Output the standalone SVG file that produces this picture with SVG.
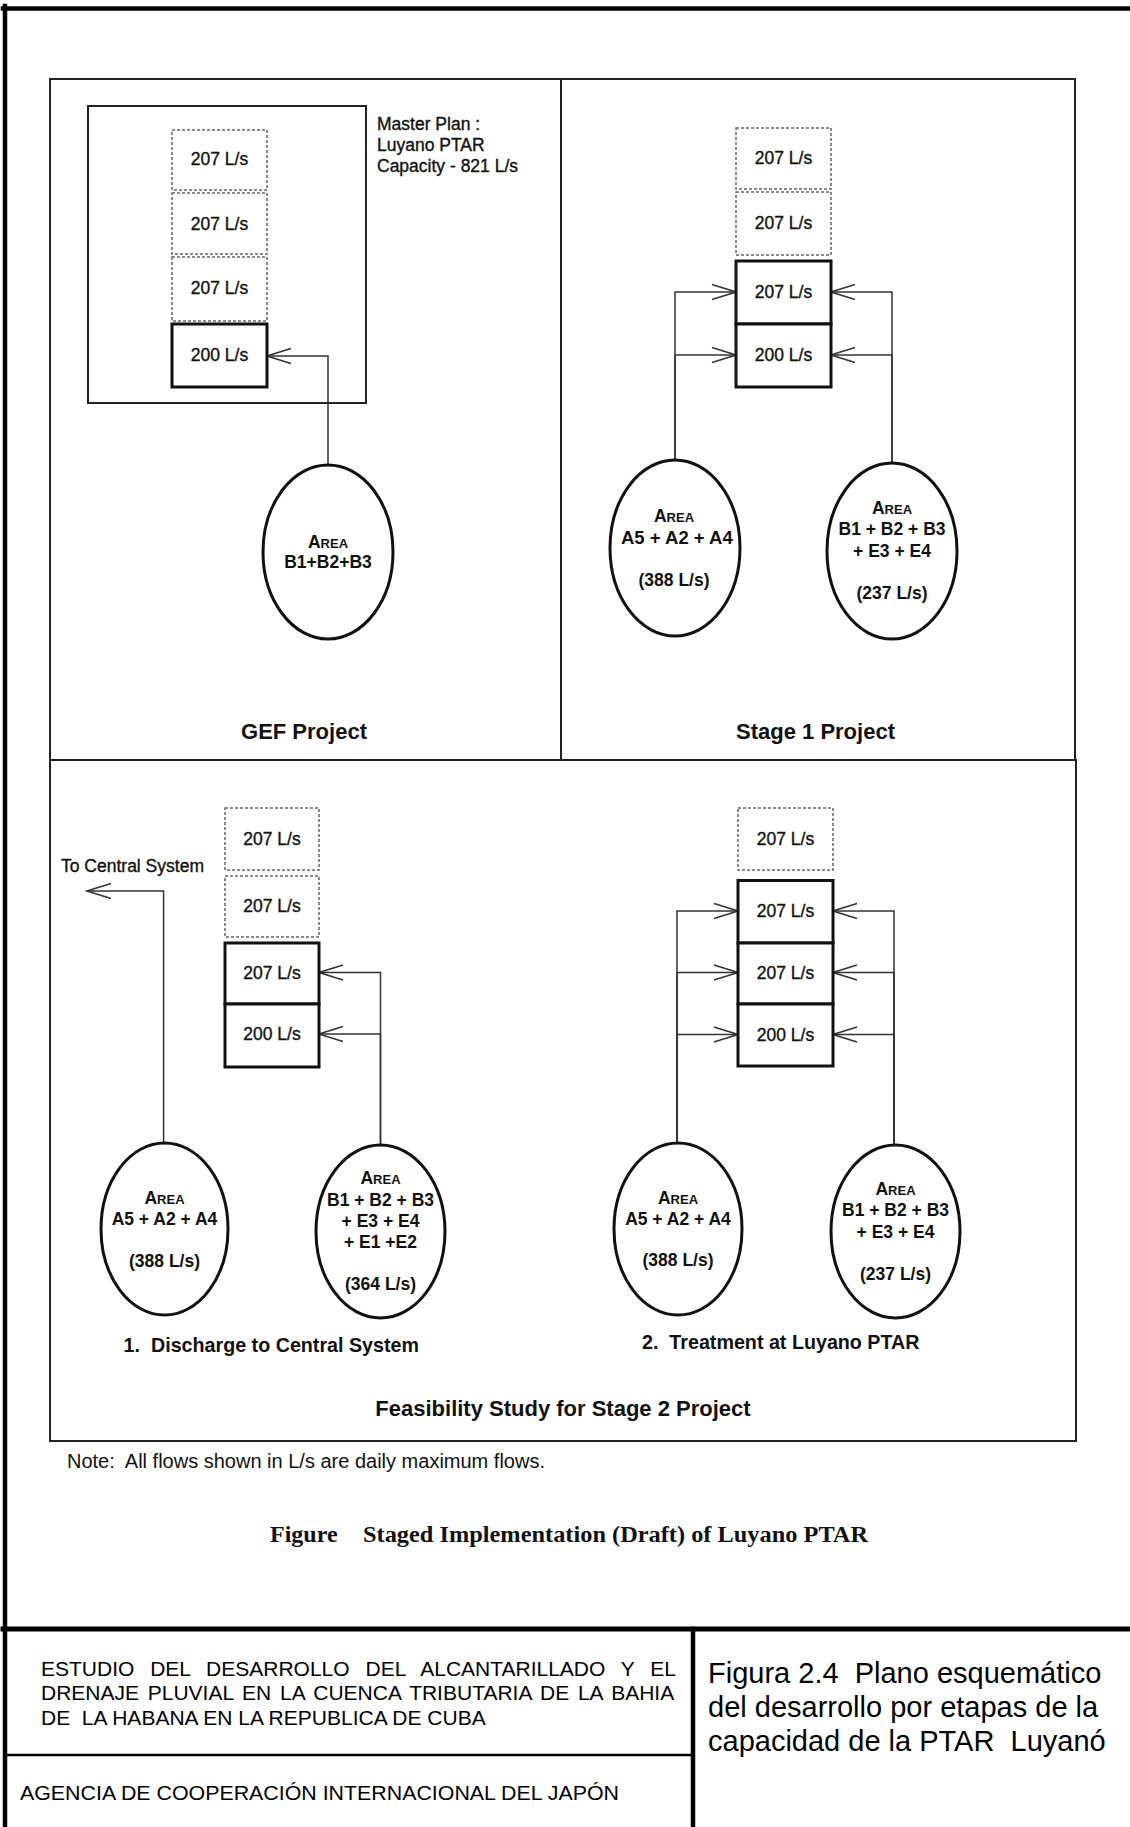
<svg xmlns="http://www.w3.org/2000/svg" width="1130" height="1827" viewBox="0 0 1130 1827">
<defs>
<style>
.frame{fill:none;stroke:#000;stroke-linecap:square}
.panel{fill:none;stroke:#222;stroke-width:2}
.dash{fill:#fff;stroke:#666;stroke-width:1.5;stroke-dasharray:3 2}
.box{fill:#fff;stroke:#111;stroke-width:3}
.area{fill:#fff;stroke:#111;stroke-width:3}
.conn{fill:none;stroke:#333;stroke-width:1.5;marker-end:url(#ah)}
.lbl{font-family:"Liberation Sans",Arial,sans-serif;font-size:17.5px;fill:#111;stroke:#111;stroke-width:0.35;text-anchor:middle}
.txt{font-family:"Liberation Sans",Arial,sans-serif;font-size:17.5px;fill:#111;stroke:#111;stroke-width:0.35}
.at{font-family:"Liberation Sans",Arial,sans-serif;font-size:17.5px;font-weight:bold;fill:#111;text-anchor:middle}
.sc{font-size:13px}
.ttl{font-family:"Liberation Sans",Arial,sans-serif;font-size:22px;font-weight:bold;fill:#111;text-anchor:middle}
.sub{font-family:"Liberation Sans",Arial,sans-serif;font-size:19.7px;font-weight:bold;fill:#111}
.note{font-family:"Liberation Sans",Arial,sans-serif;font-size:20px;fill:#111}
.tb{font-family:"Liberation Sans",Arial,sans-serif;font-size:21px;fill:#000}
.tb2{font-family:"Liberation Sans",Arial,sans-serif;font-size:29px;fill:#000}
.fig{font-family:"Liberation Serif","Times New Roman",serif;font-size:24px;font-weight:bold;fill:#111}
</style>
<marker id="ah" viewBox="-26 -10 28 20" refX="0" refY="0" markerWidth="28" markerHeight="20" orient="auto" markerUnits="userSpaceOnUse">
<path d="M-24,-7.5 L0,0 L-24,7.5" fill="none" stroke="#333" stroke-width="1.5"/>
</marker>
<clipPath id="clipA"><ellipse cx="675" cy="548" rx="65.5" ry="88"/></clipPath>
</defs>

<g id="frame">
<line class="frame" x1="3" y1="8.5" x2="1130" y2="8.5" stroke-width="4.5"/>
<line class="frame" x1="5" y1="6" x2="5" y2="1827" stroke-width="4.5"/>
<line class="frame" x1="3" y1="1629" x2="1130" y2="1629" stroke-width="5"/>
<line class="frame" x1="693" y1="1629" x2="693" y2="1827" stroke-width="4.5"/>
<line x1="5" y1="1755" x2="693" y2="1755" stroke="#000" stroke-width="2.5"/>
</g>

<g id="panels">
<rect class="panel" x="50" y="79" width="511" height="681"/>
<rect class="panel" x="561" y="79" width="514" height="681"/>
<rect class="panel" x="50" y="760" width="1026" height="681"/>
</g>

<g id="connectors">
<path class="conn" d="M328,465 V356 H267"/>
<path class="conn" d="M675,460 V292 H736"/>
<path class="conn" d="M675,460 V355 H736"/>
<path class="conn" d="M892,463 V292 H831"/>
<path class="conn" d="M892,463 V355 H831"/>
<path class="conn" d="M163.6,1143 V891 H87"/>
<path class="conn" d="M380.5,1145 V972.5 H319"/>
<path class="conn" d="M380.5,1145 V1034 H319"/>
<path class="conn" d="M677,1142 V911 H738"/>
<path class="conn" d="M677,1142 V972.5 H738"/>
<path class="conn" d="M677,1142 V1034.5 H738"/>
<path class="conn" d="M894,1145 V911 H833"/>
<path class="conn" d="M894,1145 V972.5 H833"/>
<path class="conn" d="M894,1145 V1034.5 H833"/>
</g>

<!-- GEF Project -->
<g id="gef-masterplan">
<rect class="panel" x="88" y="106" width="278" height="297"/>
<text class="txt" x="377" y="130">Master Plan :</text>
<text class="txt" x="377" y="151">Luyano PTAR</text>
<text class="txt" x="377" y="172">Capacity - 821 L/s</text>
</g>
<g id="gef-b1"><rect class="dash" x="172" y="130" width="95" height="60"/><text class="lbl" x="219.5" y="165">207 L/s</text></g>
<g id="gef-b2"><rect class="dash" x="172" y="193" width="95" height="61"/><text class="lbl" x="219.5" y="230">207 L/s</text></g>
<g id="gef-b3"><rect class="dash" x="172" y="257" width="95" height="64"/><text class="lbl" x="219.5" y="294">207 L/s</text></g>
<g id="gef-b4"><rect class="box" x="172" y="324" width="95" height="63"/><text class="lbl" x="219.5" y="361">200 L/s</text></g>
<g id="gef-area">
<ellipse class="area" cx="328" cy="552" rx="65" ry="87"/>
<text class="at" x="328" y="548">A<tspan class="sc">REA</tspan></text>
<text class="at" x="328" y="567.5">B1+B2+B3</text>
</g>
<text class="ttl" x="304" y="739">GEF Project</text>

<!-- Stage 1 Project -->
<g id="s1-b1"><rect class="dash" x="736" y="128" width="95" height="61"/><text class="lbl" x="783.5" y="163.5">207 L/s</text></g>
<g id="s1-b2"><rect class="dash" x="736" y="192" width="95" height="63"/><text class="lbl" x="783.5" y="229">207 L/s</text></g>
<g id="s1-b3"><rect class="box" x="736" y="261" width="95" height="63"/><text class="lbl" x="783.5" y="298">207 L/s</text></g>
<g id="s1-b4"><rect class="box" x="736" y="324" width="95" height="63"/><text class="lbl" x="783.5" y="360.5">200 L/s</text></g>
<g id="s1-areaA">
<ellipse class="area" cx="675" cy="548" rx="65" ry="88"/>
<text class="at" x="674" y="522">A<tspan class="sc">REA</tspan></text>
<text class="at" x="621" y="543.5" style="text-anchor:start;font-size:18.5px" clip-path="url(#clipA)">A5 + A2 + A4</text>
<text class="at" x="674" y="586">(388 L/s)</text>
</g>
<g id="s1-areaB">
<ellipse class="area" cx="892" cy="551" rx="65" ry="88"/>
<text class="at" x="892" y="514">A<tspan class="sc">REA</tspan></text>
<text class="at" x="892" y="535">B1 + B2 + B3</text>
<text class="at" x="892" y="556.5">+ E3 + E4</text>
<text class="at" x="892" y="599">(237 L/s)</text>
</g>
<text class="ttl" x="815.5" y="739">Stage 1 Project</text>

<!-- Stage 2: Discharge -->
<text class="txt" x="61" y="872">To Central System</text>
<g id="d-b1"><rect class="dash" x="225" y="808" width="94" height="62"/><text class="lbl" x="272" y="845">207 L/s</text></g>
<g id="d-b2"><rect class="dash" x="225" y="876" width="94" height="61"/><text class="lbl" x="272" y="911.5">207 L/s</text></g>
<g id="d-b3"><rect class="box" x="225" y="943" width="94" height="61"/><text class="lbl" x="272" y="978.5">207 L/s</text></g>
<g id="d-b4"><rect class="box" x="225" y="1004" width="94" height="63"/><text class="lbl" x="272" y="1040">200 L/s</text></g>
<g id="d-areaA">
<ellipse class="area" cx="164.5" cy="1229" rx="63.5" ry="86"/>
<text class="at" x="164.5" y="1204">A<tspan class="sc">REA</tspan></text>
<text class="at" x="164.5" y="1225">A5 + A2 + A4</text>
<text class="at" x="164.5" y="1267">(388 L/s)</text>
</g>
<g id="d-areaB">
<ellipse class="area" cx="380.5" cy="1231.5" rx="64.5" ry="86.5"/>
<text class="at" x="380.5" y="1184">A<tspan class="sc">REA</tspan></text>
<text class="at" x="380.5" y="1205.5">B1 + B2 + B3</text>
<text class="at" x="380.5" y="1226.5">+ E3 + E4</text>
<text class="at" x="380.5" y="1247.5">+ E1 +E2</text>
<text class="at" x="380.5" y="1290">(364 L/s)</text>
</g>
<text class="sub" x="123.6" y="1352" xml:space="preserve">1.  Discharge to Central System</text>

<!-- Stage 2: Treatment -->
<g id="t-b1"><rect class="dash" x="738" y="808" width="95" height="62"/><text class="lbl" x="785.5" y="845">207 L/s</text></g>
<g id="t-b2"><rect class="box" x="738" y="880.5" width="95" height="62.5"/><text class="lbl" x="785.5" y="917">207 L/s</text></g>
<g id="t-b3"><rect class="box" x="738" y="943" width="95" height="61"/><text class="lbl" x="785.5" y="978.5">207 L/s</text></g>
<g id="t-b4"><rect class="box" x="738" y="1004" width="95" height="62"/><text class="lbl" x="785.5" y="1040.5">200 L/s</text></g>
<g id="t-areaA">
<ellipse class="area" cx="678" cy="1229" rx="64" ry="86"/>
<text class="at" x="678" y="1203.6">A<tspan class="sc">REA</tspan></text>
<text class="at" x="678" y="1224.6">A5 + A2 + A4</text>
<text class="at" x="678" y="1266">(388 L/s)</text>
</g>
<g id="t-areaB">
<ellipse class="area" cx="895.5" cy="1231.5" rx="64.5" ry="86.5"/>
<text class="at" x="895.5" y="1195">A<tspan class="sc">REA</tspan></text>
<text class="at" x="895.5" y="1215.5">B1 + B2 + B3</text>
<text class="at" x="895.5" y="1237.6">+ E3 + E4</text>
<text class="at" x="895.5" y="1280">(237 L/s)</text>
</g>
<text class="sub" x="642" y="1349" xml:space="preserve">2.  Treatment at Luyano PTAR</text>

<text class="ttl" x="563" y="1416">Feasibility Study for Stage 2 Project</text>
<text class="note" x="67" y="1468" xml:space="preserve">Note:  All flows shown in L/s are daily maximum flows.</text>

<text class="fig" x="270" y="1542">Figure</text>
<text class="fig" x="363" y="1542" textLength="505" lengthAdjust="spacingAndGlyphs">Staged Implementation (Draft) of Luyano PTAR</text>

<!-- title block -->
<g id="titleblock">
<text class="tb" x="41" y="1676" word-spacing="10">ESTUDIO DEL DESARROLLO DEL ALCANTARILLADO Y EL</text>
<text class="tb" x="41" y="1700" word-spacing="2.9">DRENAJE PLUVIAL EN LA CUENCA TRIBUTARIA DE LA BAHIA</text>
<text class="tb" x="41" y="1725" xml:space="preserve">DE  LA HABANA EN LA REPUBLICA DE CUBA</text>
<text class="tb" x="20" y="1800" textLength="599" lengthAdjust="spacingAndGlyphs">AGENCIA DE COOPERACIÓN INTERNACIONAL DEL JAPÓN</text>
<text class="tb2" x="708" y="1683" xml:space="preserve">Figura 2.4  Plano esquemático</text>
<text class="tb2" x="708" y="1717">del desarrollo por etapas de la</text>
<text class="tb2" x="708" y="1751" xml:space="preserve">capacidad de la PTAR  Luyanó</text>
</g>
</svg>
